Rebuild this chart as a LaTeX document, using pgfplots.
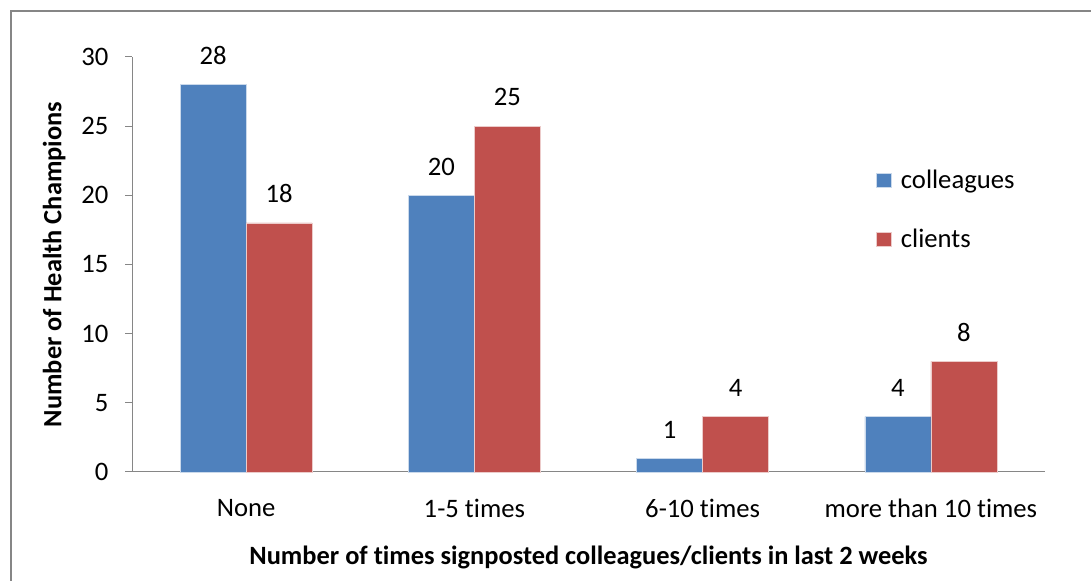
\documentclass[border=0pt]{standalone}
\usepackage{fontspec}
\setmainfont{Carlito}[Ligatures=NoCommon]
\usepackage{pgfplots}
\pgfplotsset{compat=1.18}
\definecolor{cblue}{HTML}{4F81BD}
\definecolor{cred}{HTML}{C0504D}
\definecolor{axgray}{HTML}{868686}
\begin{document}
\begin{tikzpicture}
\useasboundingbox (0,0) rectangle (818.25pt,435.75pt);
\draw[axgray, line width=1.5pt] (8.3pt,0pt) -- (8.3pt,427.4pt) -- (818.25pt,427.4pt);
\begin{axis}[
  at={(99pt,81.75pt)}, anchor=south west,
  scale only axis, width=684.75pt, height=311.25pt,
  xmin=-0.5, xmax=3.5, ymin=0, ymax=30,
  ybar, bar width=49.5pt,
  axis lines=left, axis line style={-, axgray, line width=0.75pt},
  ytick={0,5,...,30},
  xtick={0,1,2,3},
  xticklabels={None,1-5 times,6-10 times,more than 10 times},
  minor xtick={-0.5,0.5,1.5,2.5,3.5},
  tick align=outside,
  major tick length=5.25pt, minor tick length=5.25pt,
  xtick style={draw=none},
  minor x tick style={axgray, line width=0.75pt},
  ytick style={axgray, line width=0.75pt},
  /pgf/number format/assume math mode=true,
  tick label style={font=\fontsize{20}{24}\selectfont, text=black},
  yticklabel style={xshift=-9pt},
  xticklabel style={yshift=-11.5pt},
  ylabel={\textbf{Number of Health Champions}},
  xlabel={\textbf{Number of times signposted colleagues/clients in last 2 weeks}},
  label style={font=\fontsize{19.8}{23}\selectfont},
  ylabel style={yshift=5pt},
  xlabel style={yshift=-14pt},
  nodes near coords,
  nodes near coords style={font=\fontsize{20}{24}\selectfont, text=black, anchor=south, yshift=11.5pt},
  legend style={draw=none, fill=none, at={(0.815,0.735)}, anchor=north west,
     font=\fontsize{20}{24}\selectfont, row sep=25pt, column sep=5pt, inner sep=0pt},
  legend cell align=left,
  legend image code/.code={\fill[#1] (0pt,-5.5pt) rectangle (11pt,5.5pt);},
  clip=false,
]
\addplot[bar shift=-24.75pt, fill=cblue, draw=white!70!cblue, line width=0.4pt]
  coordinates {(0,28) (1,20) (2,1) (3,4)};
\addlegendentry{colleagues}
\addplot[bar shift=24.75pt, fill=cred, draw=white!70!cred, line width=0.4pt]
  coordinates {(0,18) (1,25) (2,4) (3,8)};
\addlegendentry{clients}
\end{axis}
\end{tikzpicture}
\end{document}
